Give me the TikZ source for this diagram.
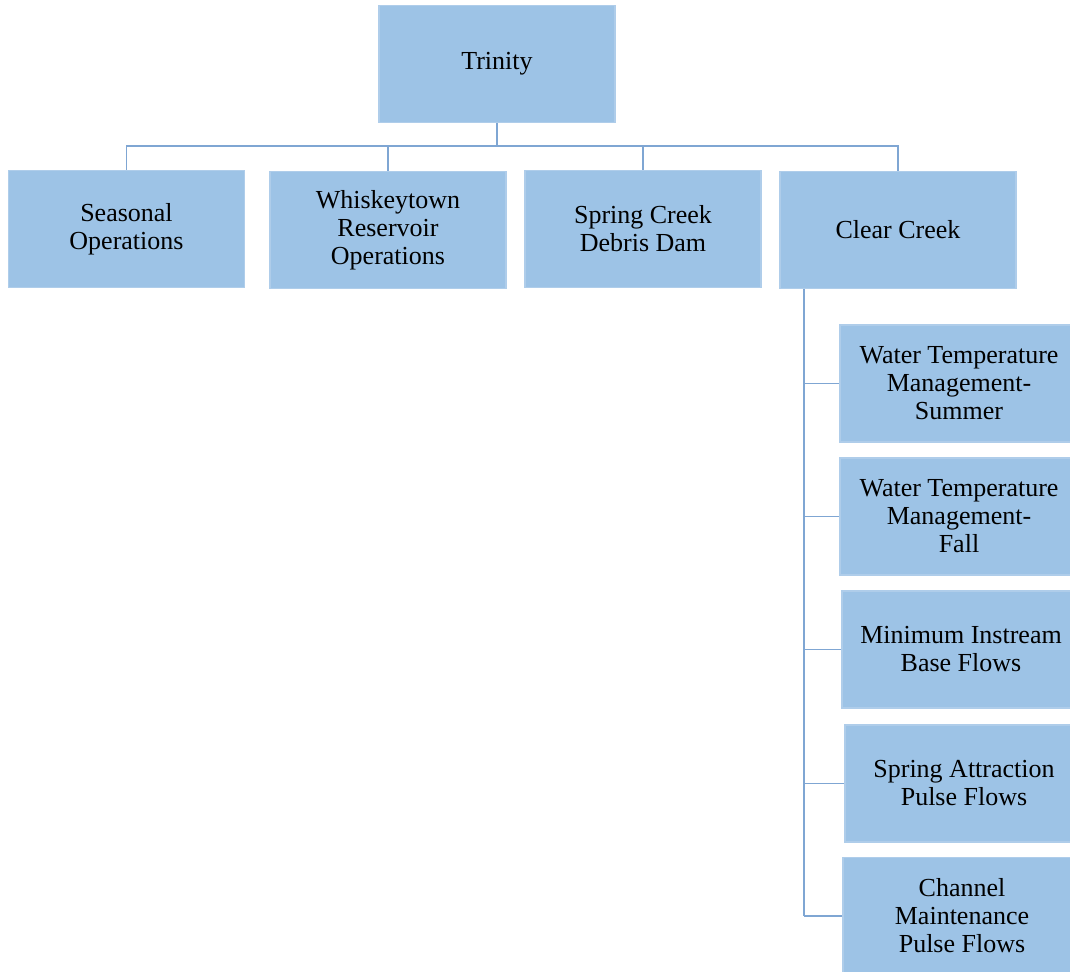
\documentclass[tikz,border=0pt]{standalone}
\usepackage{fontspec}
\setmainfont{Liberation Serif}
\usepackage{xcolor}
\definecolor{boxblue}{HTML}{9DC3E6}
\definecolor{edgeblue}{HTML}{AFCDEA}
\definecolor{linkblue}{HTML}{7FA6D3}
\usepackage{tikz}
\usetikzlibrary{positioning}

\begin{document}
\begin{tikzpicture}[
        x=0.5pt, y=-0.5pt,
        box/.style={draw=edgeblue, line width=0.6pt, fill=boxblue, rectangle, minimum width=118pt, minimum height=58.5pt, align=center, text=black, font=\fontsize{13}{14}\selectfont},
        link/.style={draw=linkblue, line width=0.7pt}
    ]
        \useasboundingbox (0,0) rectangle (1070,972);
        \clip (0,0) rectangle (1070,972);

        % Top
        \node[box] (trinity) at (497,64) {Trinity};

        % Second row
        \node[box] (seasonal) at (126.5,229) {Seasonal\\Operations};
        \node[box] (whiskey) at (388,230) {Whiskeytown\\Reservoir\\Operations};
        \node[box] (spring) at (643,229) {Spring Creek\\Debris Dam};
        \node[box] (clear) at (898,230) {Clear Creek};

        % Clear Creek branches
        \node[box, minimum width=119pt] (summer) at (959,383.5) {Water Temperature\\Management-\\Summer};
        \node[box, minimum width=119pt] (fall) at (959,516.5) {Water Temperature\\Management-\\Fall};
        \node[box, minimum width=119pt] (base) at (961,649.5) {Minimum Instream\\Base Flows};
        \node[box, minimum width=119pt] (attract) at (964,783.5) {Spring Attraction\\Pulse Flows};
        \node[box, minimum width=119pt] (channel) at (962,916) {Channel\\Maintenance\\Pulse Flows};

        % Bus under Trinity
        \coordinate (bus) at (497,146);
        \draw[link] (trinity.south) -- (bus);
        \draw[link] (seasonal.north) |- (bus);
        \draw[link] (whiskey.north) |- (bus);
        \draw[link] (spring.north) |- (bus);
        \draw[link] (clear.north) |- (bus);

        % Spine under Clear Creek
        \coordinate (spine) at (804,0);
        \draw[link] (spine |- clear.south) -- (spine |- channel.west);
        \foreach \n in {summer, fall, base, attract, channel}
            \draw[link] (spine |- \n.west) -- (\n.west);
\end{tikzpicture}
\end{document}
